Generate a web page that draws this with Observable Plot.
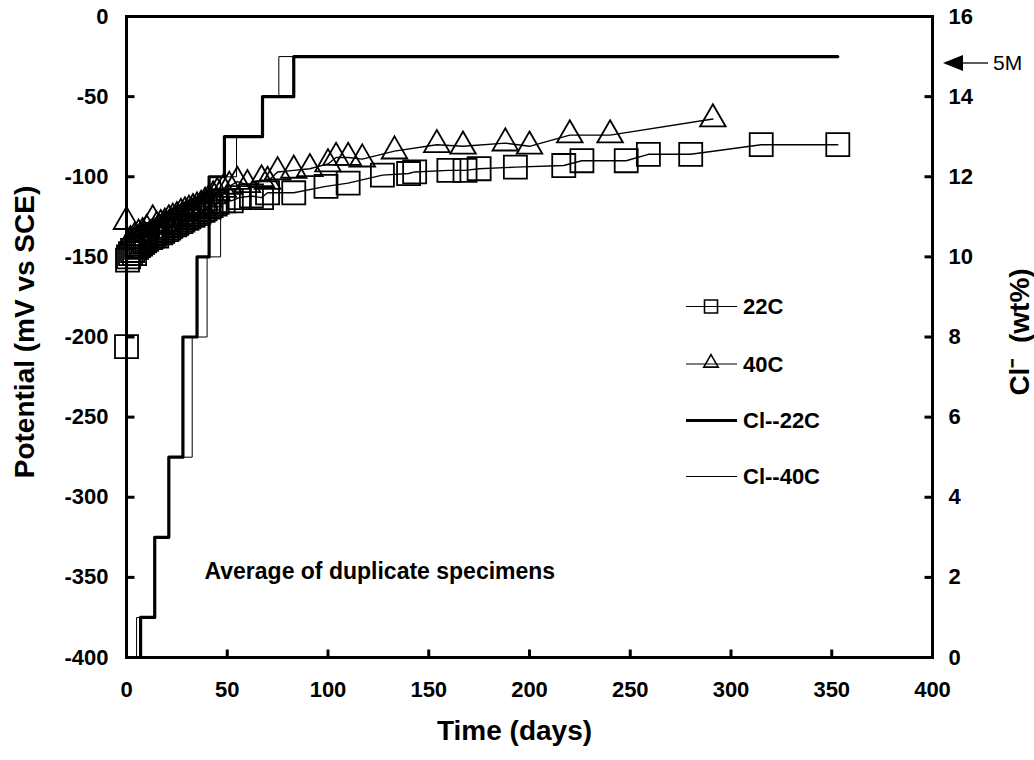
<!DOCTYPE html>
<html><head><meta charset="utf-8">
<script src="https://cdn.jsdelivr.net/npm/d3@7"></script>
<script src="https://cdn.jsdelivr.net/npm/@observablehq/plot@0.6"></script>
<style>
body{margin:0;background:#fff;}
#wrap{position:relative;width:1034px;height:760px;font-family:"Liberation Sans",Arial,sans-serif;}
#wrap svg{position:absolute;left:0;top:0;}
</style></head><body><div id="wrap"></div>
<script>
// ---- data ----
const xTicks = [0, 50, 100, 150, 200, 250, 300, 350, 400];
const yTicks = [-400, -350, -300, -250, -200, -150, -100, -50, 0];
const clTicks = [0, 2, 4, 6, 8, 10, 12, 14, 16];

const t22 = [0, 0.5, 1, 2, 3, 4, 5, 6, 7, 8, 9, 10, 12, 13, 14, 15, 17, 18, 20, 21, 22, 24, 25, 27, 28, 30, 31, 33, 35, 36, 38, 39, 41, 42, 44, 45, 48, 52, 56, 62, 67, 70, 83, 99, 110, 127, 140, 143, 160, 168, 175, 193, 217, 226, 248, 259, 280, 315, 353];
const v22 = [-206, -152, -150, -148, -146, -148, -144, -143, -142, -141, -140, -139, -138, -137, -136, -137, -135, -134, -133, -132, -131, -130, -129, -128, -127, -126, -125, -124, -123, -122, -121, -120, -119, -118, -117, -116, -115, -115, -113, -112, -113, -110, -110, -106, -104, -99, -98, -97, -96, -96, -95, -94, -93, -90, -90, -86, -86, -80, -80];

const t40 = [0, 2, 4, 6, 8, 10, 13, 15, 17, 19, 21, 23, 25, 27, 29, 31, 33, 35, 37, 39, 41, 43, 45, 48, 51, 55, 60, 67, 70, 75, 83, 91, 100, 104, 110, 117, 133, 154, 167, 188, 200, 220, 240, 291];
const v40 = [-128, -140, -138, -136, -135, -133, -127, -131, -130, -129, -127, -126, -125, -123, -122, -121, -120, -119, -118, -116, -114, -112, -110, -108, -106, -103, -105, -102, -103, -97, -96, -95, -92, -88, -88, -89, -84, -80, -81, -79, -81, -74, -74, -64];

const clT22 = [0, 7, 14, 21, 28, 35, 41, 48.6, 67.5, 83, 353];
const clV22 = [0, 1, 3, 5, 8, 10, 12, 13, 14, 15, 15];
const clT40 = [0, 5, 14, 21, 32.6, 40, 46.7, 54.6, 67.5, 75.6, 290];
const clV40 = [0, 1, 3, 5, 8, 10, 12, 13, 14, 15, 15];

const legendLabels = ["22C", "40C", "Cl--22C", "Cl--40C"];
const note = "Average of duplicate specimens";
const arrowLabel = "5M";
const xTitle = "Time (days)";
const yTitle = "Potential (mV vs SCE)";
const y2Title = "Cl\u207B  (wt%)";

// ---- build ----
const clMax = 16, yMin = -400, yMax = 0;
const clToY = c => yMin + c * (yMax - yMin) / clMax;
const yToCl = y => Math.round((y - yMin) * clMax / (yMax - yMin));

const p22 = t22.map((t, i) => ({t, v: v22[i]}));
const p40 = t40.map((t, i) => ({t, v: v40[i]}));
const c22 = clT22.map((t, i) => ({t, c: clV22[i]}));
const c40 = clT40.map((t, i) => ({t, c: clV40[i]}));

const tickUp = {draw(ctx){ctx.moveTo(0, 0); ctx.lineTo(0, -8);}};
const tickRight = {draw(ctx){ctx.moveTo(0, 0); ctx.lineTo(8, 0);}};
const tickLeft = {draw(ctx){ctx.moveTo(0, 0); ctx.lineTo(-8, 0);}};

const font = '"Liberation Sans", Arial, sans-serif';

const chart = Plot.plot({
  width: 1034, height: 760,
  marginTop: 16, marginLeft: 126, marginRight: 102, marginBottom: 103,
  x: {domain: [0, 400]},
  y: {domain: [yMin, yMax]},
  style: {fontFamily: font, fontWeight: "bold", background: "#fff", color: "#000", overflow: "visible"},
  marks: [
    Plot.line(c40, {x: "t", y: d => clToY(d.c), curve: "step-after", stroke: "#000", strokeWidth: 1}),
    Plot.line(c22, {x: "t", y: d => clToY(d.c), curve: "step-after", stroke: "#000", strokeWidth: 3.2}),
    Plot.line(p22, {x: "t", y: "v", stroke: "#000", strokeWidth: 1.4}),
    Plot.dot(p22, {x: "t", y: "v", symbol: "square", r: 13, stroke: "#000", fill: "none", strokeWidth: 1.8}),
    Plot.line(p40, {x: "t", y: "v", stroke: "#000", strokeWidth: 1.4}),
    Plot.dot(p40, {x: "t", y: "v", symbol: "triangle", r: 9.5, stroke: "#000", fill: "none", strokeWidth: 1.8}),
    Plot.frame({stroke: "#000", strokeWidth: 3}),
    Plot.dotX(xTicks, {frameAnchor: "bottom", symbol: tickUp, stroke: "#000", strokeWidth: 3, fill: "none"}),
    Plot.dotY(yTicks, {frameAnchor: "left", symbol: tickRight, stroke: "#000", strokeWidth: 3, fill: "none"}),
    Plot.dotY(clTicks.map(clToY), {frameAnchor: "right", symbol: tickLeft, stroke: "#000", strokeWidth: 3, fill: "none"}),
    Plot.axisX({ticks: xTicks, tickSize: 0, tickPadding: 24, fontSize: 22, label: null, tickFormat: d => d}),
    Plot.axisY({anchor: "left", ticks: yTicks, tickSize: 0, tickPadding: 18, fontSize: 22, label: null, tickFormat: d => d}),
    Plot.axisY({anchor: "right", ticks: clTicks.map(clToY), tickSize: 0, tickPadding: 16, fontSize: 22, label: null, tickFormat: yToCl}),
    Plot.text([xTitle], {frameAnchor: "bottom", textAnchor: "middle", dx: -15, dy: 82, fontSize: 28, fontWeight: "bold"}),
    Plot.text([yTitle], {frameAnchor: "left", textAnchor: "middle", dx: -101, dy: -5, rotate: -90, fontSize: 28, fontWeight: "bold"}),
    Plot.text([y2Title], {frameAnchor: "right", textAnchor: "middle", dx: 88, dy: -5, rotate: -90, fontSize: 28, fontWeight: "bold"}),
    Plot.text([note], {frameAnchor: "bottom-left", dx: 78, dy: -79, textAnchor: "start", fontSize: 23, fontWeight: "bold"})
  ]
});
const wrap = document.getElementById("wrap");
wrap.appendChild(chart);

// ---- legend & 5M annotation overlay ----
const ov = d3.select(wrap).append("svg").attr("width", 1034).attr("height", 760)
  .style("pointer-events", "none").style("font-family", font);
const rows = [306.5, 364, 420.5, 476.5];
rows.forEach((y, i) => {
  const g = ov.append("g").attr("transform", `translate(0,${y})`);
  g.append("line").attr("x1", 686).attr("x2", 737).attr("stroke", "#000")
    .attr("stroke-width", i === 2 ? 3.2 : 1.2);
  if (i === 0) g.append("path").attr("d", d3.symbol(d3.symbolSquare, 169)()).attr("transform", "translate(711,0)")
    .attr("fill", "none").attr("stroke", "#000").attr("stroke-width", 1.6);
  if (i === 1) g.append("path").attr("d", d3.symbol(d3.symbolTriangle, 90)()).attr("transform", "translate(711,-1)")
    .attr("fill", "none").attr("stroke", "#000").attr("stroke-width", 1.6);
  g.append("text").attr("x", 743).attr("dy", "0.35em").attr("font-size", 22).attr("font-weight", "bold").text(legendLabels[i]);
});
const ay = 63;
ov.append("line").attr("x1", 960).attr("x2", 988).attr("y1", ay).attr("y2", ay).attr("stroke", "#000").attr("stroke-width", 1.3);
ov.append("path").attr("d", `M943,${ay}L963,${ay - 8}L963,${ay + 8}Z`).attr("fill", "#000");
ov.append("text").attr("x", 993).attr("y", ay).attr("dy", "0.35em").attr("font-size", 21).text(arrowLabel);
</script></body></html>
